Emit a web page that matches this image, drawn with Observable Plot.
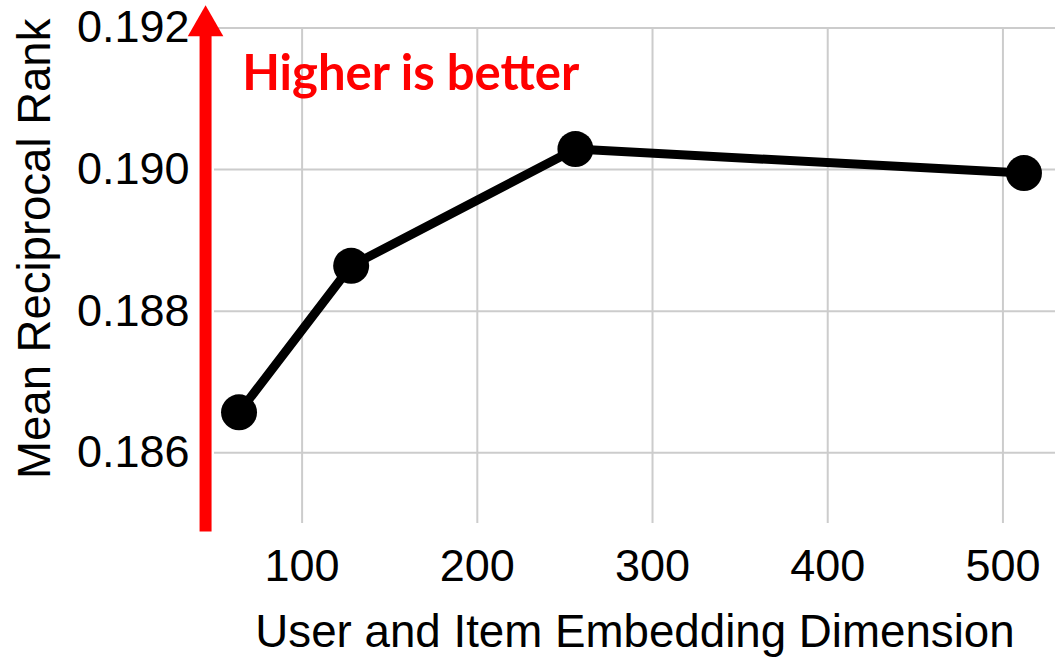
<!DOCTYPE html>
<html>
<head>
<meta charset="utf-8">
<script src="https://cdn.jsdelivr.net/npm/d3@7"></script>
<script src="https://cdn.jsdelivr.net/npm/@observablehq/plot@0.6"></script>
<style>
  html, body { margin: 0; padding: 0; background: #fff; }
  #chart svg { display: block; }
</style>
</head>
<body>
<div id="chart"></div>
<script>
// ---- data ----
const dims = [64, 128, 256, 512];
const mrr = [0.18657, 0.18864, 0.19029, 0.18995];
const xTicks = [100, 200, 300, 400, 500];
const yTicks = [0.186, 0.188, 0.190, 0.192];
const xDomain = [50, 530];
const yDomain = [0.185, 0.192];
const xLabel = "User and Item Embedding Dimension";
const yLabel = "Mean Reciprocal Rank";

// annotation (in data units)
const arrowX = [44.9];
const arrowFrom = [0.18488];
const arrowTo = [0.1919];
const arrowHeadY = [0.19203];
const noteText = ["Higher is better"];
const noteX = [65.8];
const noteY = [0.19112];

const data = dims.map((d, i) => ({dim: d, mrr: mrr[i]}));
const arrow = arrowX.map((x, i) => ({x, y1: arrowFrom[i], y2: arrowTo[i], yh: arrowHeadY[i]}));
const notes = noteText.map((t, i) => ({t, x: noteX[i], y: noteY[i]}));

const grid = {stroke: "#cccccc", strokeOpacity: 1, strokeWidth: 2};

const chart = Plot.plot({
  width: 1060,
  height: 663,
  marginLeft: 214,
  marginRight: 5,
  marginTop: 27.5,
  marginBottom: 140,
  style: {fontFamily: "'Liberation Sans', Arial, sans-serif", background: "white", color: "black"},
  x: {domain: xDomain},
  y: {domain: yDomain},
  marks: [
    Plot.gridX(xTicks, grid),
    Plot.gridY(yTicks, grid),
    Plot.axisX(xTicks, {tickSize: 0, tickPadding: 26, fontSize: 45, label: null, fill: "black"}),
    Plot.axisY(yTicks, {tickSize: 0, tickPadding: 25, fontSize: 45, label: null, tickFormat: d3.format(".3f"), fill: "black"}),
    Plot.text([xLabel], {text: d => d, frameAnchor: "bottom", lineAnchor: "bottom", dy: 123, fontSize: 45.7, fill: "black"}),
    Plot.text([yLabel], {text: d => d, frameAnchor: "left", textAnchor: "middle", lineAnchor: "bottom", rotate: -90, dx: -165, dy: -27, fontSize: 45.5, fill: "black"}),
    Plot.ruleX(arrow, {x: "x", y1: "y1", y2: "y2", stroke: "red", strokeWidth: 12}),
    Plot.dot(arrow, {x: "x", y: "yh", symbol: "triangle", r: 13.2, fill: "red", stroke: "none"}),
    Plot.line(data, {x: "dim", y: "mrr", stroke: "black", strokeWidth: 9}),
    Plot.dot(data, {x: "dim", y: "mrr", r: 18, fill: "black", stroke: "none"}),
    Plot.text(notes, {x: "x", y: "y", text: "t", textAnchor: "start", lineAnchor: "bottom", fill: "red", fontSize: 49, fontWeight: "bold", fontFamily: "Lato"})
  ]
});
document.getElementById("chart").appendChild(chart);
</script>
</body>
</html>
